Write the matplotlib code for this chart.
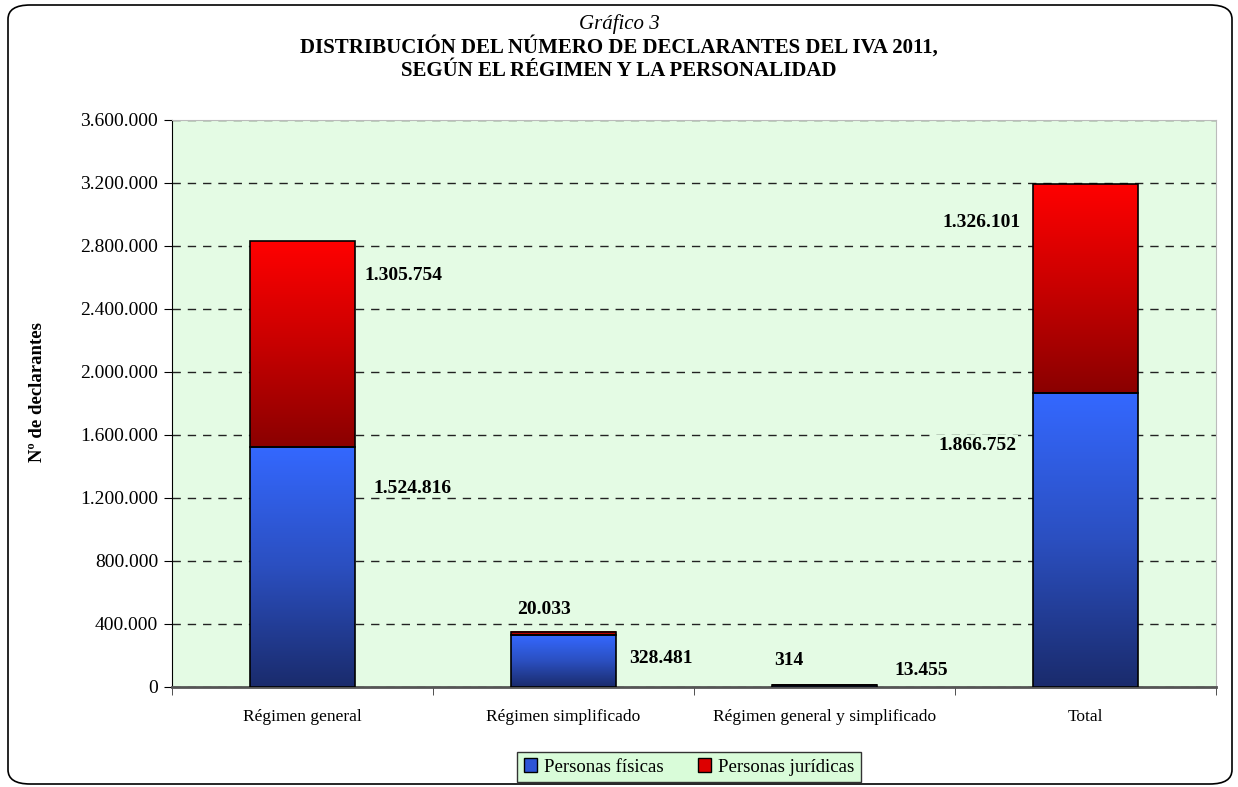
import matplotlib
matplotlib.use("Agg")
import matplotlib.pyplot as plt
import numpy as np
from matplotlib.colors import LinearSegmentedColormap
from matplotlib.patches import FancyBboxPatch, Rectangle
from matplotlib.ticker import FuncFormatter

plt.rcParams['font.family'] = ['Liberation Serif', 'DejaVu Serif']

categories = ["Régimen general", "Régimen simplificado",
              "Régimen general y simplificado", "Total"]
fisicas = [1524816, 328481, 13455, 1866752]
juridicas = [1305754, 20033, 314, 1326101]
series_names = ["Personas físicas", "Personas jurídicas"]
yticks = [0, 400000, 800000, 1200000, 1600000, 2000000, 2400000,
          2800000, 3200000, 3600000]

def fmt(v):
    return f"{int(v):,}".replace(",", ".")

W, H = 1238, 787
fig = plt.figure(figsize=(W/100, H/100), dpi=100)
ax = fig.add_axes([172/W, 1-686.7/H, (1216-172)/W, (686.7-120)/H])
ax.set_facecolor("#e4fbe4")

x = np.arange(len(categories))
w = 0.40
b1 = ax.bar(x, fisicas, w, color="none", edgecolor="black", linewidth=1.2, zorder=4)
b2 = ax.bar(x, juridicas, w, bottom=fisicas, color="none", edgecolor="black", linewidth=1.2, zorder=4)

cm_blue = LinearSegmentedColormap.from_list("b", ["#1a2b6c", "#2b4fc0", "#3468ff"])
cm_red = LinearSegmentedColormap.from_list("r", ["#8a0000", "#c80000", "#ff0000"])
grad = np.linspace(0, 1, 256).reshape(-1, 1)
for bars, cm in ((b1, cm_blue), (b2, cm_red)):
    for r in bars:
        x0, y0 = r.get_x(), r.get_y()
        ax.imshow(grad, extent=[x0, x0 + r.get_width(), y0, y0 + r.get_height()],
                  origin="lower", cmap=cm, aspect="auto", zorder=3,
                  interpolation="bilinear")

ax.set_xlim(-0.5, len(categories) - 0.5)
ax.set_ylim(0, 3600000)
ax.set_yticks(yticks)
ax.yaxis.set_major_formatter(FuncFormatter(lambda v, p: fmt(v)))
ax.set_xticks(x)
ax.set_xticklabels(categories)
ax.set_xticks(np.arange(len(categories) + 1) - 0.5, minor=True)
ax.tick_params(axis="x", which="major", length=0, pad=16, labelsize=12.5)
ax.tick_params(axis="x", which="minor", length=6, color="#333333")
ax.tick_params(axis="y", labelsize=14, length=6, pad=4)
ax.grid(axis="y", linestyle=(0, (6, 5)), color="#222222", linewidth=1.0, zorder=1)
ax.set_axisbelow(True)
for s in ("top", "right"):
    ax.spines[s].set_color("#bbbbbb")
ax.spines["left"].set_color("black")
ax.spines["bottom"].set_color("#555555")
ax.spines["bottom"].set_linewidth(2)
ax.set_ylabel("Nº de declarantes", fontsize=13.5, fontweight="bold")
ax.yaxis.set_label_coords((46-172)/1044, 0.52)

lab = dict(fontsize=14, fontweight="bold", textcoords="offset pixels", va="center")
# Régimen general
r = b2[0]
ax.annotate(fmt(juridicas[0]), (r.get_x() + r.get_width(), r.get_y() + r.get_height()),
            xytext=(10, -34), ha="left", **lab)
r = b1[0]
ax.annotate(fmt(fisicas[0]), (r.get_x() + r.get_width(), r.get_height()),
            xytext=(19, -42), ha="left", **lab)
# Régimen simplificado
r = b2[1]
ax.annotate(fmt(juridicas[1]), (r.get_x(), r.get_y() + r.get_height()),
            xytext=(6, 22), ha="left", **lab)
r = b1[1]
ax.annotate(fmt(fisicas[1]), (r.get_x() + r.get_width(), 0),
            xytext=(13, 28), ha="left", **lab)
# Régimen general y simplificado
r = b2[2]
ax.annotate(fmt(juridicas[2]), (r.get_x(), r.get_y() + r.get_height()),
            xytext=(2, 24), ha="left", **lab)
r = b1[2]
ax.annotate(fmt(fisicas[2]), (r.get_x() + r.get_width(), 0),
            xytext=(18, 16), ha="left", **lab)
# Total
bg = dict(boxstyle="square,pad=0.1", fc="#e4fbe4", ec="none")
r = b2[3]
ax.annotate(fmt(juridicas[3]), (r.get_x(), r.get_y() + r.get_height()),
            xytext=(-13, -38), ha="right", bbox=bg, **lab)
r = b1[3]
ax.annotate(fmt(fisicas[3]), (r.get_x(), r.get_height()),
            xytext=(-17, -53), ha="right", bbox=bg, **lab)

# Titles
fig.text(0.5, 1 - 24/H, "Gráfico 3", ha="center", va="center", fontsize=15, style="italic")
fig.text(0.5, 1 - 47/H, "DISTRIBUCIÓN DEL NÚMERO DE DECLARANTES DEL IVA 2011,",
         ha="center", va="center", fontsize=15, fontweight="bold")
fig.text(0.5, 1 - 71/H, "SEGÚN EL RÉGIMEN Y LA PERSONALIDAD",
         ha="center", va="center", fontsize=15, fontweight="bold")

# Legend
handles = [Rectangle((0, 0), 1, 1, fc="#2d55d6", ec="black", lw=1),
           Rectangle((0, 0), 1, 1, fc="#dd0000", ec="black", lw=1)]
leg = fig.legend(handles, series_names, loc="center", bbox_to_anchor=(689/W, 1 - 767/H),
                 ncol=2, fontsize=13.5, frameon=True, fancybox=False, handlelength=0.7,
                 handleheight=0.7, handletextpad=0.4, columnspacing=1.8,
                 borderpad=0.35)
leg.get_frame().set_facecolor("#d9fcd9")
leg.get_frame().set_edgecolor("#333333")
leg.get_frame().set_alpha(1)

# Outer rounded frame
frame = FancyBboxPatch((8/W, 1 - 784/H), (1232-8)/W, (784-5)/H,
                       boxstyle="round,pad=0,rounding_size=0.018",
                       transform=fig.transFigure, fill=False, ec="black", lw=1.2)
fig.patches.append(frame)

fig.savefig("out.png", dpi=100)
